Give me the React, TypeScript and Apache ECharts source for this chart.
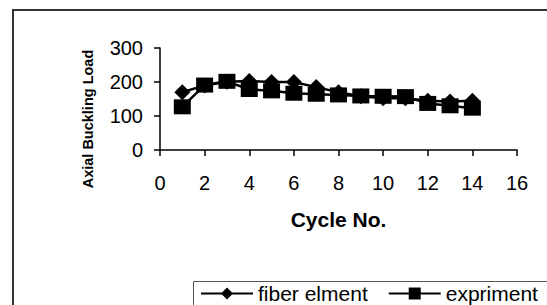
import React, { useEffect, useRef } from "react";
import * as echarts from "echarts";

const cycles = [1, 2, 3, 4, 5, 6, 7, 8, 9, 10, 11, 12, 13, 14];
const fiberElment = [170, 190, 201, 203, 200, 200, 185, 170, 158, 152, 152, 145, 143, 145];
const expriment = [127, 191, 202, 178, 174, 167, 164, 162, 159, 158, 157, 137, 130, 123];
const seriesNames = ["fiber elment", "expriment"];
const xAxisTitle = "Cycle No.";
const yAxisTitle = "Axial Buckling Load";

const FONT = "'Liberation Sans', Arial, sans-serif";

export default function App() {
  const ref = useRef<HTMLDivElement>(null);
  useEffect(() => {
    if (!ref.current) return;
    const chart = echarts.init(ref.current, undefined, { renderer: "svg" });
    const mk = (vals: number[]) => cycles.map((c, i) => [c, vals[i]]);
    chart.setOption({
      animation: false,
      backgroundColor: "#ffffff",
      textStyle: { fontFamily: FONT },
      grid: { left: 160, right: 30, top: 48, bottom: 155, containLabel: false },
      xAxis: {
        type: "value",
        min: 0,
        max: 16,
        interval: 2,
        axisLine: { show: true, onZero: false, lineStyle: { color: "#000", width: 1.5 } },
        axisTick: { show: true, inside: false, length: 6, lineStyle: { color: "#000", width: 1.5 } },
        axisLabel: { color: "#000", fontSize: 20, margin: 23, fontFamily: FONT },
        splitLine: { show: false },
        name: xAxisTitle,
        nameLocation: "middle",
        nameGap: 59,
        nameTextStyle: { color: "#000", fontSize: 21, fontWeight: "bold", fontFamily: FONT },
      },
      yAxis: {
        type: "value",
        min: 0,
        max: 300,
        interval: 100,
        axisLine: { show: true, lineStyle: { color: "#000", width: 1.5 } },
        axisTick: { show: true, inside: false, length: 6, lineStyle: { color: "#000", width: 1.5 } },
        axisLabel: { color: "#000", fontSize: 20, margin: 17, fontFamily: FONT },
        splitLine: { show: false },
      },
      legend: {
        data: seriesNames,
        left: 200,
        top: 283,
        padding: 0,
        itemWidth: 52,
        itemHeight: 15,
        itemGap: 20,
        textStyle: { color: "#000", fontSize: 21, fontFamily: FONT },
      },
      graphic: [
        {
          type: "rect",
          shape: { x: 13, y: 10, width: 700, height: 500 },
          style: { fill: "none", stroke: "#333", lineWidth: 2 },
          silent: true,
        },
        {
          type: "rect",
          shape: { x: 193.5, y: 281.5, width: 500, height: 100 },
          style: { fill: "none", stroke: "#555", lineWidth: 1 },
          silent: true,
        },
        {
          type: "text",
          x: 88,
          y: 119,
          rotation: Math.PI / 2,
          style: {
            text: yAxisTitle,
            fontSize: 14.5,
            fontWeight: "bold",
            fontFamily: FONT,
            fill: "#000",
            align: "center",
            verticalAlign: "middle",
          },
          silent: true,
        },
      ],
      series: [
        {
          name: seriesNames[0],
          type: "line",
          data: mk(fiberElment),
          symbol: "diamond",
          symbolSize: [16, 16],
          lineStyle: { color: "#000", width: 2.5 },
          itemStyle: { color: "#000", borderWidth: 0 },
        },
        {
          name: seriesNames[1],
          type: "line",
          data: mk(expriment),
          symbol: "rect",
          symbolSize: [17, 15],
          lineStyle: { color: "#000", width: 2.5 },
          itemStyle: { color: "#000", borderWidth: 0 },
        },
      ],
    });
    return () => chart.dispose();
  }, []);
  return <div ref={ref} style={{ width: 547, height: 305, position: "absolute", left: 0, top: 0 }} />;
}
